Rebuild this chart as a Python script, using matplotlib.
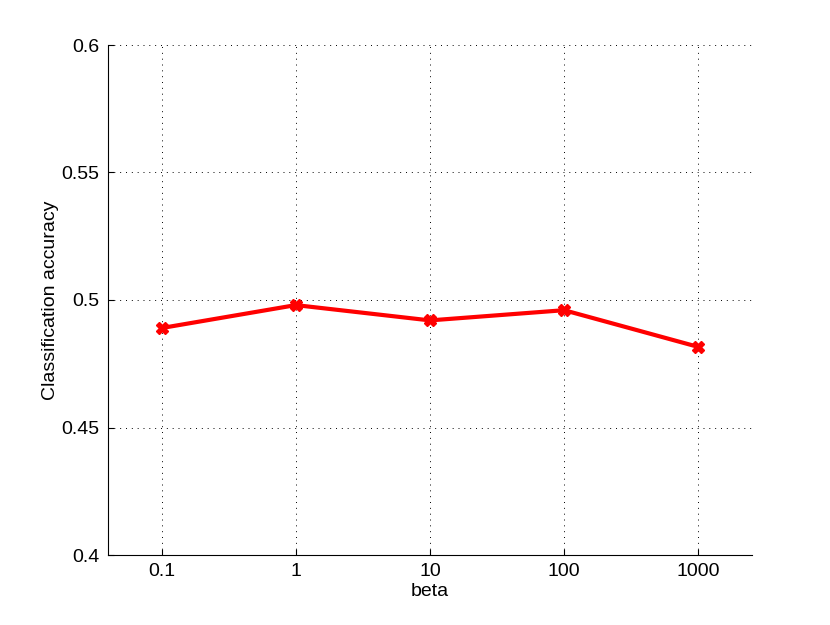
import matplotlib
matplotlib.use("Agg")
import matplotlib.pyplot as plt

plt.rcParams["font.family"] = ["Liberation Sans", "DejaVu Sans"]

beta_labels = ["0.1", "1", "10", "100", "1000"]
accuracy = [0.489, 0.498, 0.492, 0.496, 0.4816]
y_ticks = [0.4, 0.45, 0.5, 0.55, 0.6]
y_tick_labels = ["0.4", "0.45", "0.5", "0.55", "0.6"]

fig = plt.figure(figsize=(8.3, 6.25), dpi=100)
ax = fig.add_axes([0.130, 0.112, 0.776, 0.816])

x = list(range(1, len(beta_labels) + 1))
ax.plot(x, accuracy, color="red", linewidth=3, marker="X", markersize=8)

ax.set_xlim(0.6, 5.4)
ax.set_ylim(0.4, 0.6)
ax.set_xticks(x)
ax.set_xticklabels(beta_labels)
ax.set_yticks(y_ticks)
ax.set_yticklabels(y_tick_labels)

ax.grid(True, linestyle=(0, (1, 5)), color="black", linewidth=0.7)
ax.spines["top"].set_visible(False)
ax.spines["right"].set_visible(False)
ax.tick_params(direction="in", labelsize=14, length=4, pad=6)

ax.set_xlabel("beta", fontsize=14, labelpad=2)
ax.set_ylabel("Classification accuracy", fontsize=14, labelpad=2)

fig.savefig("out.png", dpi=100)
